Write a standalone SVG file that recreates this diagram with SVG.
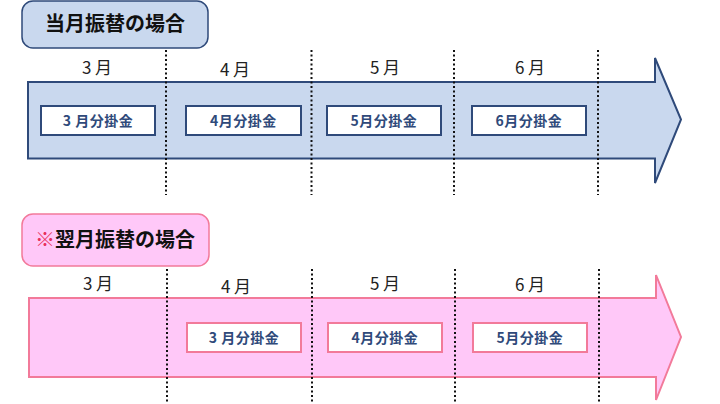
<svg xmlns="http://www.w3.org/2000/svg" width="720" height="404" viewBox="0 0 720 404">
<style>
.title{font-family:"Noto Sans CJK JP","Noto Sans",sans-serif;font-size:20px;font-weight:bold;fill:#111}
.mon{font-family:"Noto Sans CJK JP","Noto Sans",sans-serif;font-size:17px;fill:#222;text-anchor:middle}
.lbl{font-family:"Noto Sans CJK JP","Noto Sans",sans-serif;font-size:14px;font-weight:bold;fill:#2F4A7A;text-anchor:middle;letter-spacing:0.5px}
.bbox{fill:#fff;stroke:#2F4A7A;stroke-width:2}
.pbox{fill:#fff;stroke:#F27A9A;stroke-width:2}
.dot{stroke:#111;stroke-width:2;stroke-dasharray:2 2.5;fill:none}
</style>
<g id="title-top">
<rect x="22" y="1" width="186" height="47" rx="11" fill="#C9D8EE" stroke="#2F4A7A" stroke-width="1.5"/>
<text class="title" x="115" y="31" text-anchor="middle">当月振替の場合</text>
</g>
<g id="arrow-top">
<path d="M28,82 H655 V58 L681,119.5 L655,183 V158.5 H28 Z" fill="#C9D8EE" stroke="#2F4A7A" stroke-width="2"/>
</g>
<g id="title-bottom">
<rect x="22" y="214" width="187" height="52" rx="11" fill="#FFC8F8" stroke="#F27A9A" stroke-width="1.5"/>
<text class="title" x="115" y="247" text-anchor="middle"><tspan fill="#E8305A">※</tspan>翌月振替の場合</text>
</g>
<g id="arrow-bottom">
<path d="M29,298 H656 V275 L681,337 L656,400 V377 H29 Z" fill="#FFC8F8" stroke="#F27A9A" stroke-width="2"/>
</g>
<g id="connectors">
<line class="dot" x1="166" y1="50" x2="166" y2="195"/>
<line class="dot" x1="311.5" y1="50" x2="311.5" y2="195"/>
<line class="dot" x1="454" y1="50" x2="454" y2="195"/>
<line class="dot" x1="598" y1="50" x2="598" y2="195"/>
<line class="dot" x1="167" y1="269" x2="167" y2="404"/>
<line class="dot" x1="312" y1="269" x2="312" y2="404"/>
<line class="dot" x1="455" y1="269" x2="455" y2="404"/>
<line class="dot" x1="599" y1="269" x2="599" y2="404"/>
</g>
<g id="months-top">
<text class="mon" x="97" y="74">3 月</text>
<text class="mon" x="235" y="76">4 月</text>
<text class="mon" x="385" y="74">5 月</text>
<text class="mon" x="530" y="74">6 月</text>
</g>
<g id="months-bottom">
<text class="mon" x="98" y="290">3 月</text>
<text class="mon" x="236" y="293">4 月</text>
<text class="mon" x="385" y="290">5 月</text>
<text class="mon" x="530" y="291">6 月</text>
</g>
<g id="box-top-3"><rect class="bbox" x="41" y="106" width="114" height="29"/><text class="lbl" x="98" y="126">3 月分掛金</text></g>
<g id="box-top-4"><rect class="bbox" x="186" y="106" width="115" height="29"/><text class="lbl" x="243.5" y="126">4月分掛金</text></g>
<g id="box-top-5"><rect class="bbox" x="327" y="106" width="114" height="29"/><text class="lbl" x="384" y="126">5月分掛金</text></g>
<g id="box-top-6"><rect class="bbox" x="472" y="106" width="114" height="29"/><text class="lbl" x="529" y="126">6月分掛金</text></g>
<g id="box-bot-3"><rect class="pbox" x="187" y="323" width="114" height="29"/><text class="lbl" x="244" y="343">3 月分掛金</text></g>
<g id="box-bot-4"><rect class="pbox" x="328" y="323" width="114" height="29"/><text class="lbl" x="385" y="343">4月分掛金</text></g>
<g id="box-bot-5"><rect class="pbox" x="473" y="323" width="114" height="29"/><text class="lbl" x="530" y="343">5月分掛金</text></g>
</svg>
